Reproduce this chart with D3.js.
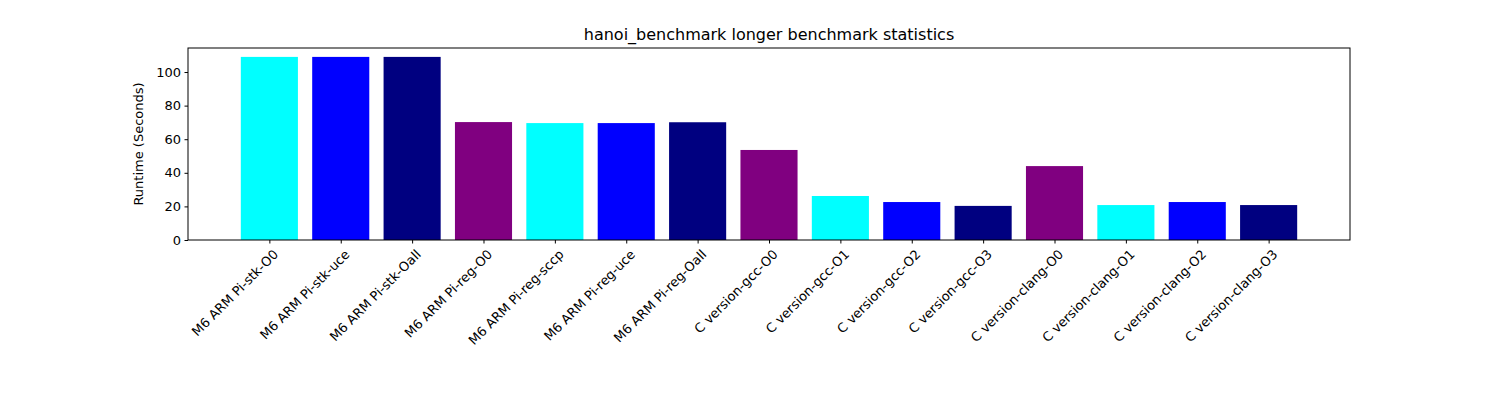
<!DOCTYPE html>
<html><head><meta charset="utf-8">
<script src="https://cdn.jsdelivr.net/npm/d3@7"></script>
<style>body{margin:0;background:#fff}text{font-family:"DejaVu Sans",sans-serif}</style>
</head><body><svg id="c" width="1500" height="400"></svg>
<script>
const categories=["M6 ARM Pi-stk-O0","M6 ARM Pi-stk-uce","M6 ARM Pi-stk-Oall","M6 ARM Pi-reg-O0","M6 ARM Pi-reg-sccp","M6 ARM Pi-reg-uce","M6 ARM Pi-reg-Oall","C version-gcc-O0","C version-gcc-O1","C version-gcc-O2","C version-gcc-O3","C version-clang-O0","C version-clang-O1","C version-clang-O2","C version-clang-O3"];
const values=[109,109,109,70.2,69.6,69.6,70.1,53.6,26.2,22.6,20.3,44,20.8,22.6,20.8];
const colors=["#00ffff","#0000ff","#000080","#800080"];
const yTicks=[0,20,40,60,80,100];
const L=188,R=1350,T=48,B=240;
const svg=d3.select("#c");
const x=d3.scaleLinear().domain([-1.14,15.14]).range([L,R]);
const y=d3.scaleLinear().domain([0,114.3]).range([B,T]);
svg.selectAll("rect.b").data(values).enter().append("rect")
 .attr("x",(d,i)=>x(i-0.4)).attr("width",x(0.8)-x(0))
 .attr("y",d=>y(d)).attr("height",d=>B-y(d))
 .attr("fill",(d,i)=>colors[i%4]);
svg.append("rect").attr("x",L).attr("y",T).attr("width",R-L).attr("height",B-T).attr("fill","none").attr("stroke","#000").attr("stroke-width",1);
const ya=svg.append("g").attr("transform",`translate(${L},0)`).call(d3.axisLeft(y).tickValues(yTicks).tickSize(3.5).tickPadding(3.5));
ya.select(".domain").remove();
ya.selectAll("text").style("font-size","13px").style("font-family","DejaVu Sans");
const xa=svg.append("g").attr("transform",`translate(0,${B})`).call(d3.axisBottom(x).tickValues(d3.range(categories.length)).tickFormat(i=>categories[i]).tickSize(3.5));
xa.select(".domain").remove();
xa.selectAll("text").style("font-size","13px").style("font-family","DejaVu Sans")
 .attr("text-anchor","end").attr("dy","0.35em").attr("transform","translate(6,12) rotate(-45)").attr("y",0).attr("x",0);
svg.append("text").attr("x",(L+R)/2).attr("y",40).attr("text-anchor","middle").style("font-size","16px").text("hanoi_benchmark longer benchmark statistics");
svg.append("text").attr("transform",`translate(143,${(T+B)/2}) rotate(-90)`).attr("text-anchor","middle").style("font-size","13px").text("Runtime (Seconds)");
</script></body></html>
